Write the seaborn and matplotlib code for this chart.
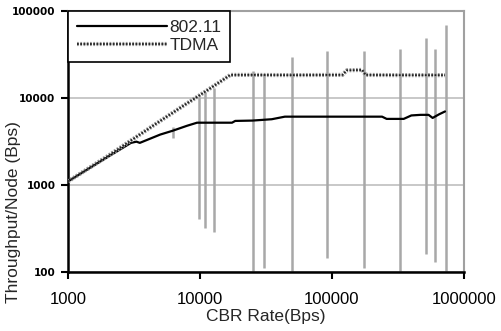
import matplotlib

matplotlib.use("Agg")

import matplotlib.pyplot as plt
import matplotlib.patheffects as pe
import pandas as pd
import seaborn as sns

# 802.11 throughput per node
wifi_rate = [1000, 2000, 3000, 3300, 3500, 5000, 6200, 8000, 9500, 17500, 18500,
             25000, 35000, 44000, 100000, 240000, 260000, 350000, 400000, 470000,
             540000, 580000, 650000, 720000]
wifi_tput = [1100, 2100, 3050, 3150, 3050, 3800, 4200, 4800, 5200, 5200, 5450,
             5500, 5700, 6100, 6100, 6100, 5750, 5750, 6300, 6400,
             6400, 5900, 6500, 7000]

# TDMA throughput per node
tdma_rate = [1000, 2000, 3000, 5000, 8000, 10000, 12500, 17000, 25000, 50000,
             100000, 120000, 130000, 170000, 180000, 300000, 500000, 720000]
tdma_tput = [1100, 2150, 3250, 5450, 8700, 10800, 13500, 18400, 18400, 18300,
             18400, 18400, 20800, 21000, 18400, 18300, 18300, 18300]

# vertical spread bars (gray)
bar_rate = [6200, 9800, 11000, 12800, 25200, 30600, 49700, 91600, 175000,
            327000, 515000, 603000, 731000]
bar_low = [3500, 406, 321, 288, 90, 111, 90, 145, 111, 90, 161, 130, 90]
bar_high = [4600, 10300, 11700, 13000, 20400, 19000, 29600, 34700, 34700,
            36600, 49000, 36600, 69000]

series_names = ["802.11", "TDMA"]
xtick_values = [1000, 10000, 100000, 1000000]
xtick_labels = ["1000", "10000", "100000", "1000000"]
ytick_values = [100, 1000, 10000, 100000]
ytick_labels = ["100", "1000", "10000", "100000"]


def build_frame() -> pd.DataFrame:
    wifi = pd.DataFrame({"rate": wifi_rate, "tput": wifi_tput, "series": series_names[0]})
    tdma = pd.DataFrame({"rate": tdma_rate, "tput": tdma_tput, "series": series_names[1]})
    return pd.concat([wifi, tdma], ignore_index=True)


def main() -> None:
    sns.set_theme(style="white")
    plt.rcParams["font.family"] = ["Liberation Sans", "DejaVu Sans"]

    fig = plt.figure(figsize=(5.02, 3.31), dpi=100)
    ax = fig.add_axes([0.1355, 0.178, 0.7885, 0.789])

    df = build_frame()
    ax.vlines(bar_rate, bar_low, bar_high, color="#a8a8a8", linewidth=1.8, zorder=1.5)

    sns.lineplot(
        data=df,
        x="rate",
        y="tput",
        hue="series",
        palette={"802.11": "black", "TDMA": "#222222"},
        estimator=None,
        sort=True,
        legend=False,
        ax=ax,
        zorder=3,
    )
    lines = ax.get_lines()
    wifi_line, tdma_line = lines[0], lines[1]
    wifi_line.set_linewidth(1.6)
    tdma_line.set_linewidth(1.3)
    tdma_line.set_dashes((1.0, 0.8))
    tdma_line.set_path_effects([pe.Stroke(linewidth=3.0, foreground="#999999"), pe.Normal()])

    ax.set(xscale="log", yscale="log")
    ax.set_xlim(1000, 1000000)
    ax.set_ylim(100, 100000)
    ax.minorticks_off()
    ax.set_xticks(xtick_values)
    ax.set_xticklabels(xtick_labels, fontsize=12)
    ax.set_yticks(ytick_values)
    ax.set_yticklabels(ytick_labels, fontsize=7.5, fontweight="bold", family="DejaVu Sans")
    ax.tick_params(axis="x", direction="out", length=5, width=1.5, pad=9, bottom=True, colors="black")
    ax.tick_params(axis="y", direction="out", length=5, width=1.5, pad=4, left=True, colors="black")

    ax.yaxis.grid(True, color="#c4c4c4", linewidth=1.3)
    ax.xaxis.grid(False)
    ax.set_axisbelow(True)

    for side in ["top", "right"]:
        ax.spines[side].set_color("#a0a0a0")
        ax.spines[side].set_linewidth(1.5)
    for side in ["left", "bottom"]:
        ax.spines[side].set_color("black")
        ax.spines[side].set_linewidth(1.8)

    ax.set_xlabel("CBR Rate(Bps)", fontsize=12.5, labelpad=2)
    ax.set_ylabel("Throughput/Node (Bps)", fontsize=12.5)
    ax.yaxis.set_label_coords(-0.118, 0.23)

    leg = ax.legend(
        [wifi_line, tdma_line],
        series_names,
        loc="upper left",
        bbox_to_anchor=(0, 1),
        borderaxespad=0,
        fontsize=12.5,
        handlelength=5.2,
        handletextpad=0.15,
        borderpad=0.5,
        labelspacing=0.2,
        fancybox=False,
        framealpha=1,
    )
    leg.get_frame().set_edgecolor("black")
    leg.get_frame().set_linewidth(1.2)

    fig.savefig("out.png", dpi=100)
    plt.close(fig)


if __name__ == "__main__":
    main()
